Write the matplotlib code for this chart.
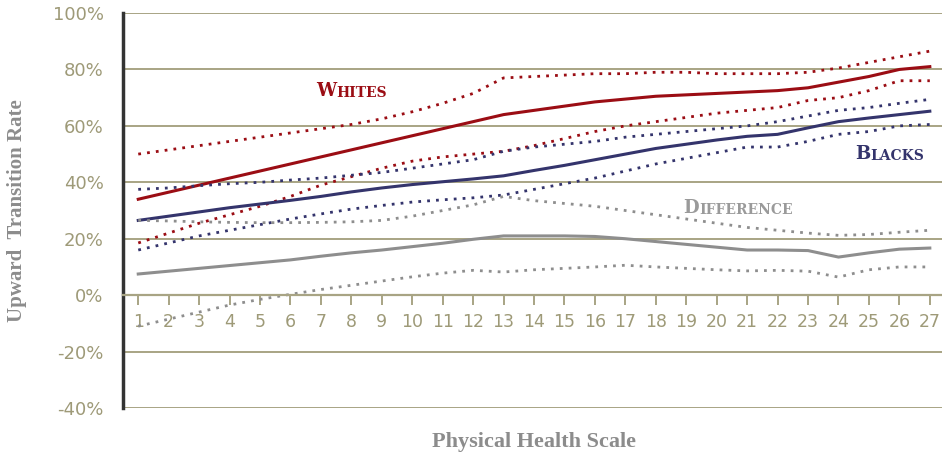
import matplotlib
matplotlib.use("Agg")
import matplotlib.pyplot as plt
from matplotlib.ticker import FuncFormatter

# Physical health scale, 1..27
scale = list(range(1, 28))

whites = [34, 36.5, 39, 41.5, 44, 46.5, 49, 51.5, 54, 56.5, 59, 61.5, 64, 65.5, 67,
          68.5, 69.5, 70.5, 71, 71.5, 72, 72.5, 73.5, 75.5, 77.5, 80, 81]
whites_hi = [50, 51.5, 53, 54.5, 56, 57.5, 59, 60.5, 62.5, 65, 68, 71.5, 77, 77.5, 78,
             78.5, 78.5, 79, 79, 78.5, 78.5, 78.5, 79, 80.5, 82.5, 84.5, 86.5]
whites_lo = [18.5, 22, 25.5, 28.5, 31.5, 35, 39, 42, 45, 47.5, 49, 50, 51, 53, 55.5,
             58, 60, 61.5, 63, 64.5, 65.5, 66.5, 69, 70, 72.5, 76, 76]

blacks = [26.5, 28, 29.5, 31, 32.3, 33.6, 35, 36.6, 38, 39.2, 40.2, 41.2, 42.3, 44.2, 46,
          48, 50, 52, 53.5, 55, 56.3, 57, 59.3, 61.5, 62.8, 64, 65.2]
blacks_hi = [37.5, 38, 38.8, 39.5, 40, 40.8, 41.5, 42.5, 43.5, 45, 46.5, 48, 51, 52.5, 53.5,
             54.5, 56, 57, 58, 59, 60, 61.5, 63.5, 65.5, 66.5, 68, 69.4]
blacks_lo = [16, 18.5, 21, 23, 25, 27, 28.8, 30.5, 31.8, 33, 33.8, 34.5, 35.5, 37.5, 39.5,
             41.5, 44, 46.5, 48.5, 50.5, 52.5, 52.5, 54.5, 57, 58, 60, 60.5]

diff = [7.5, 8.5, 9.5, 10.5, 11.5, 12.5, 13.8, 15, 16, 17.2, 18.4, 19.8, 21, 21, 21,
        20.8, 20, 19, 18, 17, 16, 16, 15.8, 13.5, 15, 16.3, 16.7]
diff_hi = [26.5, 26.3, 26, 25.8, 25.7, 25.7, 25.8, 26, 26.5, 28, 30, 32, 35, 33.5, 32.5,
           31.5, 30, 28.5, 27, 25.5, 24, 23, 22, 21.2, 21.5, 22.3, 23]
diff_lo = [-11, -8.5, -6, -3.5, -1.5, 0.3, 2, 3.5, 5, 6.5, 7.8, 8.8, 8.2, 9, 9.5,
           10, 10.6, 10, 9.5, 9, 8.6, 8.8, 8.5, 6.4, 9, 10, 10]

yticks = [-40, -20, 0, 20, 40, 60, 80, 100]

RED = "#9b0d14"
NAVY = "#34346c"
GRAY = "#8e8e8e"
OLIVE = "#a8a484"
TICKTXT = "#9e9a78"

fig = plt.figure(figsize=(9.42, 4.54), dpi=100)
ax = fig.add_axes([0.1306, 0.1013, 0.8694, 0.870])

dot = (0, (1, 2.2))
ax.plot(scale, whites_hi, color=RED, lw=2, ls=dot)
ax.plot(scale, whites_lo, color=RED, lw=2, ls=dot)
ax.plot(scale, whites, color=RED, lw=2.2)
ax.plot(scale, blacks_hi, color=NAVY, lw=2, ls=dot)
ax.plot(scale, blacks_lo, color=NAVY, lw=2, ls=dot)
ax.plot(scale, blacks, color=NAVY, lw=2.2)
ax.plot(scale, diff_hi, color=GRAY, lw=2, ls=dot)
ax.plot(scale, diff_lo, color=GRAY, lw=2, ls=dot)
ax.plot(scale, diff, color=GRAY, lw=2.2)

ax.set_xlim(0.5, 27.4)
ax.set_ylim(-40, 100)

# horizontal grid lines
for v in yticks:
    if v != 0:
        ax.axhline(v, color=OLIVE, lw=1.4, zorder=0)

ax.spines["top"].set_visible(False)
ax.spines["right"].set_visible(False)
ax.spines["left"].set_color("#333333")
ax.spines["left"].set_linewidth(2.5)
ax.spines["bottom"].set_position(("data", 0))
ax.spines["bottom"].set_color(OLIVE)
ax.spines["bottom"].set_linewidth(1.6)

ax.set_yticks(yticks)
ax.yaxis.set_major_formatter(FuncFormatter(lambda v, p: f"{int(v)}%"))
ax.tick_params(axis="y", length=0, pad=14, labelsize=13, labelcolor=TICKTXT)
ax.set_xticks(scale)
ax.tick_params(axis="x", direction="out", length=7, width=1.4, color=OLIVE,
               labelsize=12.5, labelcolor=TICKTXT, pad=6)
for lbl in ax.get_xticklabels() + ax.get_yticklabels():
    lbl.set_fontfamily("DejaVu Sans")

# axis titles placed on the figure (x axis sits at 0, not at the bottom)
fig.text(0.018, 0.535, "Upward  Transition Rate", rotation=90, ha="center", va="center",
         fontsize=15, fontweight="bold", color="#8c8c8c", family="Liberation Serif")
fig.text(0.567, 0.026, "Physical Health Scale", ha="center", va="center",
         fontsize=16, fontweight="bold", color="#8c8c8c", family="Liberation Serif")


def small_caps(x, y, word, color):
    # big first letter, smaller rest to mimic small caps
    t = ax.text(x, y, word[0], fontsize=13, color=color, fontweight="bold",
                family="DejaVu Serif", va="baseline")
    ax.annotate(word[1:], xy=(1, 0), xycoords=t, fontsize=10, color=color,
                fontweight="bold", family="DejaVu Serif", va="bottom")


small_caps(6.85, 70.5, "WHITES", RED)
small_caps(24.55, 48.2, "BLACKS", NAVY)
small_caps(18.9, 29.2, "DIFFERENCE", "#9a9a9a")

fig.savefig("out.png", dpi=100)
